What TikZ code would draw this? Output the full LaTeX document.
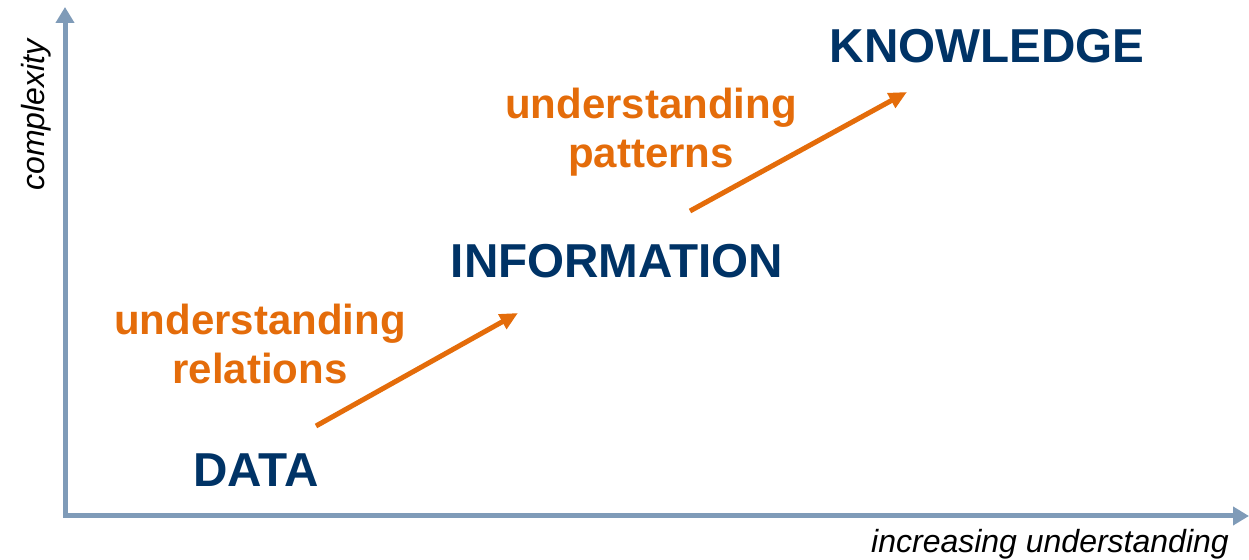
\documentclass[tikz,border=0pt]{standalone}
\usepackage{fontspec}
\setmainfont{Liberation Sans}
\usetikzlibrary{arrows.meta}
\definecolor{axisblue}{HTML}{7F9BB8}
\definecolor{darkblue}{HTML}{003366}
\definecolor{orng}{HTML}{E46C0A}

\begin{document}
\begin{tikzpicture}[x=0.5pt,y=-0.5pt,
	stage/.style={inner sep=0pt,anchor=base,text=darkblue,font=\fontsize{23.8}{28}\selectfont\bfseries},
	how/.style={inner sep=0pt,align=center,text=orng,font=\fontsize{21}{24.5}\selectfont\bfseries},
	axlabel/.style={inner sep=0pt,font=\fontsize{16}{19}\selectfont\itshape},
	step arrow/.style={orng,line width=2.5pt,-{Triangle[length=9pt,width=8pt]}}]
		\useasboundingbox (0,0) rectangle (1249,560);
		\coordinate (O) at (65,516);
		\coordinate (Ytop) at (65,7);
		\coordinate (Xend) at (1249,516);
		\draw[axisblue,line width=2.5pt,{Triangle[length=8pt,width=9pt]}-{Triangle[length=8pt,width=9pt]}] (Ytop) -- (O) -- (Xend);
		\node[axlabel,rotate=90] (cplx) at (36,115) {complexity};
		\node[axlabel] (incr) at (1050,544) {increasing understanding};

		\node[stage] (data) at (256,487) {DATA};
		\node[stage] (info) at (617,278) {INFORMATION};
		\node[stage] (know) at (987,63) {KNOWLEDGE};

		\node[how] (rel) at (260,344) {understanding\\relations};
		\node[how] (pat) at (651,132) {understanding\\patterns};

		\coordinate (A1) at (316,426);
		\coordinate (B1) at (518,313);
		\coordinate (A2) at (690,211);
		\coordinate (B2) at (907,92);
		\foreach \a/\b in {A1/B1,A2/B2}
		\draw[step arrow] (\a) -- (\b);

	    \end{tikzpicture}
\end{document}
